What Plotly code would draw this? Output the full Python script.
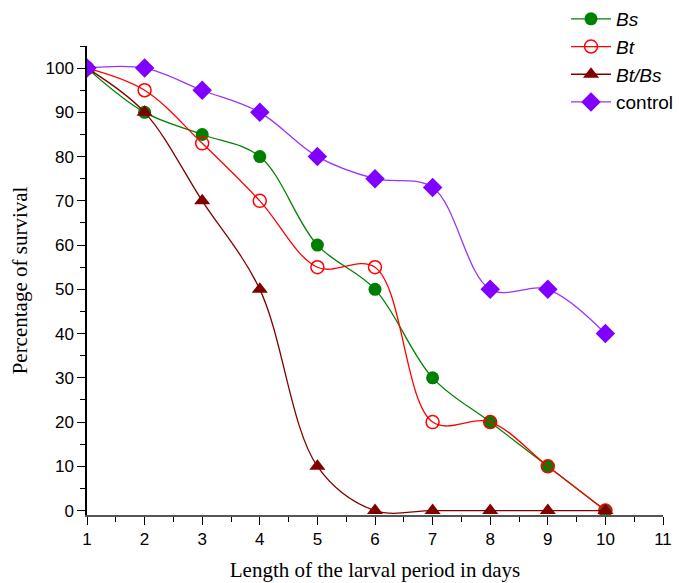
import plotly.graph_objects as go

days = [1, 2, 3, 4, 5, 6, 7, 8, 9, 10]
bs = [100, 90, 85, 80, 60, 50, 30, 20, 10, 0]
bt = [100, 95, 83, 70, 55, 55, 20, 20, 10, 0]
btbs = [100, 90, 70, 50, 10, 0, 0, 0, 0, 0]
control = [100, 100, 95, 90, 80, 75, 73, 50, 50, 40]

fig = go.Figure()

fig.add_trace(go.Scatter(x=days, y=bs, name="<i>Bs</i>", mode="lines+markers",
                         line=dict(color="#008000", width=1.3, shape="spline"),
                         marker=dict(symbol="circle", size=13, color="#008000")))
fig.add_trace(go.Scatter(x=days, y=bt, name="<i>Bt</i>", mode="lines+markers",
                         line=dict(color="#FF0000", width=1.3, shape="spline"),
                         marker=dict(symbol="circle-open", size=13, color="#FF0000", line=dict(width=1.5))))
fig.add_trace(go.Scatter(x=days, y=btbs, name="<i>Bt/Bs</i>", mode="lines+markers",
                         line=dict(color="#800000", width=1.3, shape="spline"),
                         marker=dict(symbol="triangle-up", size=14, color="#800000")))
fig.add_trace(go.Scatter(x=days, y=control, name="control", mode="lines+markers",
                         line=dict(color="#9933FF", width=1.3, shape="spline"),
                         marker=dict(symbol="diamond", size=15, color="#8000FF")))

fig.update_layout(
    width=679, height=583,
    paper_bgcolor="white", plot_bgcolor="white",
    margin=dict(l=87, r=16, t=46, b=68, autoexpand=False),
    font=dict(family="Liberation Sans, Arial", size=17, color="black"),
    legend=dict(x=1.01, y=1.0, xref="container", yref="container",
                xanchor="right", yanchor="top",
                font=dict(family="Liberation Sans, Arial", size=19),
                bgcolor="rgba(0,0,0,0)", tracegroupgap=0, itemwidth=40),
    showlegend=True,
)
fig.update_xaxes(range=[1, 11], tickvals=list(range(1, 12)), ticks="outside", ticklen=8,
                 tickcolor="black", showline=True, linecolor="#555555", linewidth=1.5,
                 showgrid=False, zeroline=False,
                 minor=dict(ticks="outside", ticklen=5, dtick=0.5, tickcolor="black"),
                 title=dict(text="Length of the larval period in days", standoff=14,
                            font=dict(family="Liberation Serif, Times New Roman", size=21)))
fig.update_yaxes(range=[-1, 105], tickvals=list(range(0, 101, 10)), ticks="outside", ticklen=8,
                 tickcolor="black", showline=True, linecolor="black", linewidth=1.5,
                 showgrid=False, zeroline=False,
                 minor=dict(ticks="outside", ticklen=5, dtick=5, tickcolor="black"),
                 title=dict(text="Percentage of survival", standoff=12,
                            font=dict(family="Liberation Serif, Times New Roman", size=21)))

fig.write_html("out.html")
